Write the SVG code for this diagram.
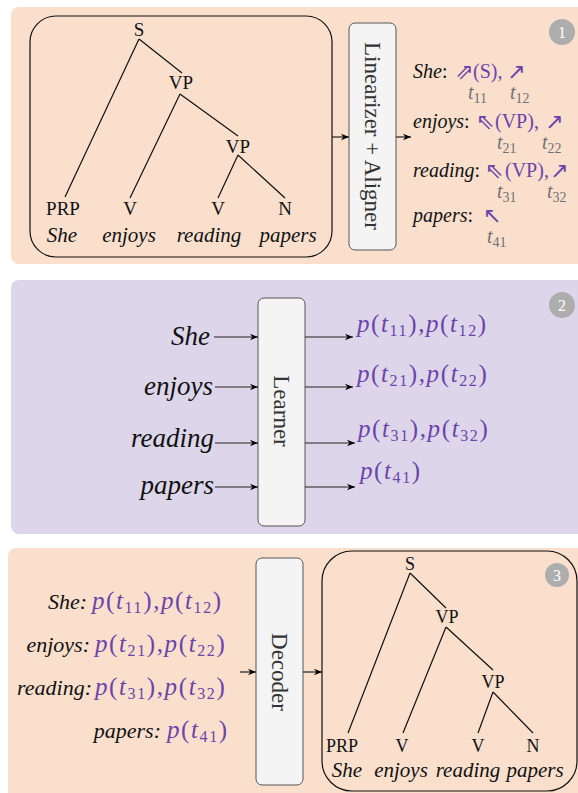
<svg xmlns="http://www.w3.org/2000/svg" width="578" height="793" viewBox="0 0 578 793">
<defs>
<marker id="ah" viewBox="0 0 10 10" refX="10" refY="5" markerWidth="8" markerHeight="8" markerUnits="userSpaceOnUse" orient="auto">
<path d="M0,1 L10,5 L0,9 L3,5 z" fill="#000"/>
</marker>
<style>
.peach{fill:#FADFCD}
.lav{fill:#DDD6EA}
.tbox{fill:none;stroke:#111;stroke-width:1.2}
.gbox{fill:#F4F4F4;stroke:#555;stroke-width:1}
.tl{stroke:#111;stroke-width:1.2;fill:none}
.lab{font-family:"Liberation Serif",serif;fill:#111;text-anchor:middle}
.al{font-family:"Liberation Serif",serif;fill:#111;font-size:20px}
.wd{font-family:"Liberation Serif",serif;font-style:italic;fill:#111}
.rot{font-family:"Liberation Serif",serif;fill:#333;text-anchor:middle;dominant-baseline:central}
.pu{fill:#6B43AB}
.ar{font-family:"DejaVu Sans",sans-serif;fill:#6B43AB;font-size:22px}
.t{font-family:"Liberation Serif",serif;font-style:italic;fill:#707070;font-size:20px}
.sub{font-style:normal;font-size:14px}
.m{font-family:"Liberation Serif",serif;fill:#6B43AB;font-size:25px;letter-spacing:1.6px}
.i{font-style:italic}
.s{font-size:16px}
.badge{fill:#ADADAD}
.bt{font-family:"Liberation Serif",serif;fill:#fff;font-size:16px;text-anchor:middle}
.cn{stroke:#222;stroke-width:1.2;fill:none;marker-end:url(#ah)}
</style>
</defs>

<!-- panels -->
<rect class="peach" x="11" y="7" width="590" height="257" rx="8"/>
<rect class="lav" x="11" y="280" width="590" height="254" rx="8"/>
<rect class="peach" x="8" y="548" width="600" height="260" rx="8"/>

<!-- panel 1 -->
<g id="tree1">
<rect class="tbox" x="30" y="16" width="302" height="241" rx="26"/>
<path class="tl" d="M139,39 L65,197 M139,39 L182,73 M180,94 L130,198 M180,94 L238,136 M238,155 L218,198 M238,155 L285,198"/>
<g class="lab" font-size="19">
<text x="139" y="36">S</text>
<text x="181" y="89">VP</text>
<text x="238" y="153">VP</text>
<text x="63" y="215">PRP</text>
<text x="130" y="215">V</text>
<text x="218" y="215">V</text>
<text x="285" y="215">N</text>
</g>
<g class="wd" font-size="21" text-anchor="middle">
<text x="62" y="242">She</text>
<text x="129" y="242">enjoys</text>
<text x="209" y="242">reading</text>
<text x="288" y="242">papers</text>
</g>
</g>

<g id="linearizer">
<rect class="gbox" x="349" y="23" width="47" height="227" rx="6"/>
<text class="rot" font-size="23" transform="translate(372,136) rotate(90)">Linearizer + Aligner</text>
</g>

<g id="alignments">
<text class="al" x="413" y="78"><tspan class="i">She</tspan>:</text>
<text class="ar" x="455" y="79">⇗</text>
<text class="al pu" x="473" y="78">(S),</text>
<text class="ar" x="507" y="79">↗</text>
<text class="t" x="468" y="99">t<tspan class="sub" dy="4">11</tspan></text>
<text class="t" x="510" y="99">t<tspan class="sub" dy="4">12</tspan></text>

<text class="al" x="413" y="128"><tspan class="i">enjoys</tspan>:</text>
<text class="ar" x="476" y="129">⇖</text>
<text class="al pu" x="495" y="128">(VP),</text>
<text class="ar" x="545" y="129">↗</text>
<text class="t" x="497" y="149">t<tspan class="sub" dy="4">21</tspan></text>
<text class="t" x="542" y="149">t<tspan class="sub" dy="4">22</tspan></text>

<text class="al" x="413" y="177"><tspan class="i">reading</tspan>:</text>
<text class="ar" x="485" y="178">⇖</text>
<text class="al pu" x="505" y="177">(VP),</text>
<text class="ar" x="550" y="178">↗</text>
<text class="t" x="497" y="198">t<tspan class="sub" dy="4">31</tspan></text>
<text class="t" x="547" y="198">t<tspan class="sub" dy="4">32</tspan></text>

<text class="al" x="413" y="222"><tspan class="i">papers</tspan>:</text>
<text class="ar" x="483" y="223">↖</text>
<text class="t" x="487" y="243">t<tspan class="sub" dy="4">41</tspan></text>
</g>

<g id="badge1"><circle class="badge" cx="562" cy="32" r="13"/><text class="bt" x="562" y="38">1</text></g>

<!-- panel 2 -->
<g id="inputs2" class="wd" font-size="27" text-anchor="end">
<text x="210" y="345">She</text>
<text x="213" y="395">enjoys</text>
<text x="214" y="447">reading</text>
<text x="214" y="494">papers</text>
</g>

<g id="learner">
<rect class="gbox" x="258" y="298" width="47" height="228" rx="6"/>
<text class="rot" font-size="23" transform="translate(281,411) rotate(90)">Learner</text>
</g>

<g id="probs2">
<text class="m" x="357" y="332"><tspan class="i">p</tspan>(<tspan class="i">t</tspan><tspan class="s" dy="4">11</tspan><tspan dy="-4">),</tspan><tspan class="i">p</tspan>(<tspan class="i">t</tspan><tspan class="s" dy="4">12</tspan><tspan dy="-4">)</tspan></text>
<text class="m" x="357" y="382"><tspan class="i">p</tspan>(<tspan class="i">t</tspan><tspan class="s" dy="4">21</tspan><tspan dy="-4">),</tspan><tspan class="i">p</tspan>(<tspan class="i">t</tspan><tspan class="s" dy="4">22</tspan><tspan dy="-4">)</tspan></text>
<text class="m" x="358" y="437"><tspan class="i">p</tspan>(<tspan class="i">t</tspan><tspan class="s" dy="4">31</tspan><tspan dy="-4">),</tspan><tspan class="i">p</tspan>(<tspan class="i">t</tspan><tspan class="s" dy="4">32</tspan><tspan dy="-4">)</tspan></text>
<text class="m" x="360" y="479"><tspan class="i">p</tspan>(<tspan class="i">t</tspan><tspan class="s" dy="4">41</tspan><tspan dy="-4">)</tspan></text>
</g>

<g id="badge2"><circle class="badge" cx="562" cy="305" r="13"/><text class="bt" x="562" y="311">2</text></g>

<!-- panel 3 -->
<g id="probs3">
<g class="wd" font-size="22" text-anchor="end">
<text x="87" y="609">She:</text>
<text x="90" y="652">enjoys:</text>
<text x="92" y="695">reading:</text>
<text x="161" y="738">papers:</text>
</g>
<text class="m" x="92" y="609"><tspan class="i">p</tspan>(<tspan class="i">t</tspan><tspan class="s" dy="4">11</tspan><tspan dy="-4">),</tspan><tspan class="i">p</tspan>(<tspan class="i">t</tspan><tspan class="s" dy="4">12</tspan><tspan dy="-4">)</tspan></text>
<text class="m" x="95" y="652"><tspan class="i">p</tspan>(<tspan class="i">t</tspan><tspan class="s" dy="4">21</tspan><tspan dy="-4">),</tspan><tspan class="i">p</tspan>(<tspan class="i">t</tspan><tspan class="s" dy="4">22</tspan><tspan dy="-4">)</tspan></text>
<text class="m" x="95" y="695"><tspan class="i">p</tspan>(<tspan class="i">t</tspan><tspan class="s" dy="4">31</tspan><tspan dy="-4">),</tspan><tspan class="i">p</tspan>(<tspan class="i">t</tspan><tspan class="s" dy="4">32</tspan><tspan dy="-4">)</tspan></text>
<text class="m" x="167" y="738"><tspan class="i">p</tspan>(<tspan class="i">t</tspan><tspan class="s" dy="4">41</tspan><tspan dy="-4">)</tspan></text>
</g>

<g id="decoder">
<rect class="gbox" x="256" y="558" width="47" height="227" rx="6"/>
<text class="rot" font-size="23" transform="translate(279,672) rotate(90)">Decoder</text>
</g>

<g id="tree3">
<rect class="tbox" x="322" y="551" width="255" height="240" rx="30"/>
<path class="tl" d="M410,573 L348,733 M410,573 L446,608 M446,627 L403,733 M446,627 L493,670 M493,692 L478,733 M493,692 L533,733"/>
<g class="lab" font-size="18">
<text x="410" y="570">S</text>
<text x="447" y="623">VP</text>
<text x="493" y="688">VP</text>
<text x="342" y="752">PRP</text>
<text x="402" y="752">V</text>
<text x="478" y="752">V</text>
<text x="533" y="752">N</text>
</g>
<g class="wd" font-size="21" text-anchor="middle">
<text x="347" y="777">She</text>
<text x="401" y="777">enjoys</text>
<text x="468" y="777">reading</text>
<text x="535" y="777">papers</text>
</g>
</g>

<g id="badge3"><circle class="badge" cx="557" cy="575" r="12"/><text class="bt" x="557" y="581">3</text></g>

<!-- connectors -->
<g id="connectors">
<line class="cn" x1="332" y1="137" x2="349" y2="137"/>
<line class="cn" x1="396" y1="137" x2="411" y2="137"/>
<line class="cn" x1="214" y1="337" x2="258" y2="337"/>
<line class="cn" x1="215" y1="387" x2="258" y2="387"/>
<line class="cn" x1="215" y1="443" x2="258" y2="443"/>
<line class="cn" x1="215" y1="487" x2="258" y2="487"/>
<line class="cn" x1="305" y1="337" x2="353" y2="337"/>
<line class="cn" x1="305" y1="387" x2="353" y2="387"/>
<line class="cn" x1="305" y1="443" x2="355" y2="443"/>
<line class="cn" x1="305" y1="487" x2="355" y2="487"/>
<line class="cn" x1="240" y1="672" x2="256" y2="672"/>
<line class="cn" x1="303" y1="672" x2="322" y2="672"/>
</g>
</svg>
